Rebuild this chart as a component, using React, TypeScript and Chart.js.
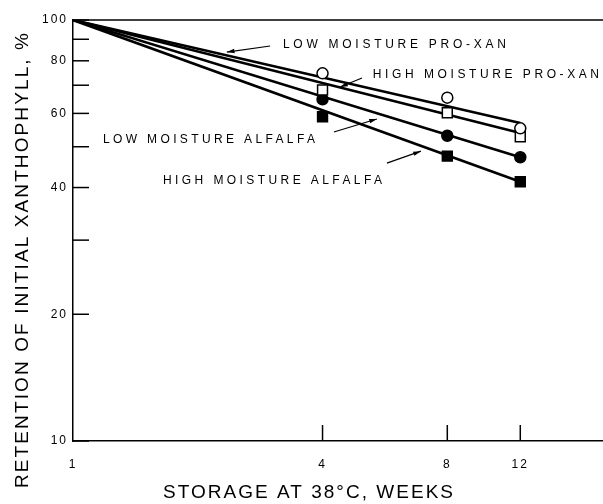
import React, { useEffect, useRef } from 'react';
import { Chart, registerables } from 'chart.js';

Chart.register(...registerables);

// ---- data ----
const weeks = [4, 8, 12];
const lowMoistureProXan = [74.7, 65.4, 55.3];
const highMoistureProXan = [68.2, 60.2, 52.8];
const lowMoistureAlfalfa = [64.8, 53.1, 47.2];
const highMoistureAlfalfa = [58.9, 47.5, 41.3];

const fitWeeks = [1, 12];
const lowMoistureProXanFit = [100, 56.9];
const highMoistureProXanFit = [100, 53.9];
const lowMoistureAlfalfaFit = [100, 47.2];
const highMoistureAlfalfaFit = [100, 41.3];

const xTickValues = [1, 4, 8, 12];
const xTickLabels = ['1', '4', '8', '12'];
const yTickValues = [10, 20, 30, 40, 50, 60, 70, 80, 90, 100];
const yTickLabels = ['10', '20', '', '40', '', '60', '', '80', '', '100'];

const xTitle = 'STORAGE AT 38\u00B0C, WEEKS';
const yTitle = 'RETENTION OF INITIAL XANTHOPHYLL, %';

// annotation labels (data coordinates)
const annotations = [
  { text: 'LOW MOISTURE PRO-XAN', x0: 3.21, x1: 11.08, y: 87.2, tail: [2.99, 86.75], head: [2.35, 83.9] },
  { text: 'HIGH MOISTURE PRO-XAN', x0: 5.29, x1: 18.58, y: 74.0, tail: [4.98, 72.8], head: [4.41, 69.3] },
  { text: 'LOW MOISTURE ALFALFA', x0: 1.181, x1: 3.835, y: 51.9, tail: [4.26, 54.2], head: [5.41, 58.2] },
  { text: 'HIGH MOISTURE ALFALFA', x0: 1.649, x1: 5.567, y: 41.5, tail: [5.72, 45.7], head: [6.91, 48.8] },
];

const FONT = '"Liberation Sans", Arial, sans-serif';
const W = 603;
const H = 504;

function pts(xs: number[], ys: number[]) {
  return xs.map((x, i) => ({ x, y: ys[i] }));
}

function drawSpaced(ctx: CanvasRenderingContext2D, text: string, x: number, y: number, width: number) {
  ctx.letterSpacing = '0px';
  const w = ctx.measureText(text).width;
  const sp = (width - w) / (text.length - 1);
  ctx.letterSpacing = sp + 'px';
  ctx.textAlign = 'left';
  ctx.textBaseline = 'middle';
  ctx.fillText(text, x, y);
  ctx.letterSpacing = '0px';
}

const decorPlugin = {
  id: 'decor',
  beforeDraw(chart: any) {
    chart.ctx.letterSpacing = '2px';
  },
  beforeDatasetsDraw(chart: any) {
    const ctx = chart.ctx as CanvasRenderingContext2D;
    ctx.letterSpacing = '0px';
    const { left, right, top, bottom } = chart.chartArea;
    const xs = chart.scales.x;
    const ys = chart.scales.y;
    ctx.save();
    ctx.strokeStyle = '#000';
    ctx.lineWidth = 1.5;
    // top frame line
    ctx.beginPath();
    ctx.moveTo(left, top);
    ctx.lineTo(right, top);
    ctx.stroke();
    // inward y tick marks
    yTickValues.forEach((v) => {
      const y = ys.getPixelForValue(v);
      ctx.beginPath();
      ctx.moveTo(left, y);
      ctx.lineTo(left + 16, y);
      ctx.stroke();
    });
    // inward x tick marks
    xTickValues.forEach((v) => {
      if (v === xTickValues[0]) return;
      const x = xs.getPixelForValue(v);
      ctx.beginPath();
      ctx.moveTo(x, bottom);
      ctx.lineTo(x, bottom - 16);
      ctx.stroke();
    });
    ctx.restore();
  },
  afterDatasetsDraw(chart: any) {
    const ctx = chart.ctx as CanvasRenderingContext2D;
    const xs = chart.scales.x;
    const ys = chart.scales.y;
    ctx.save();
    ctx.fillStyle = '#000';
    ctx.strokeStyle = '#000';
    // annotations
    ctx.font = `12px ${FONT}`;
    annotations.forEach((a) => {
      const px0 = xs.getPixelForValue(a.x0);
      const px1 = xs.getPixelForValue(a.x1);
      const py = ys.getPixelForValue(a.y);
      drawSpaced(ctx, a.text, px0, py, px1 - px0);
      const tx = xs.getPixelForValue(a.tail[0]);
      const ty = ys.getPixelForValue(a.tail[1]);
      const hx = xs.getPixelForValue(a.head[0]);
      const hy = ys.getPixelForValue(a.head[1]);
      ctx.lineWidth = 1.2;
      ctx.beginPath();
      ctx.moveTo(tx, ty);
      ctx.lineTo(hx, hy);
      ctx.stroke();
      const ang = Math.atan2(hy - ty, hx - tx);
      const L = 8;
      ctx.beginPath();
      ctx.moveTo(hx, hy);
      ctx.lineTo(hx - L * Math.cos(ang - 0.28), hy - L * Math.sin(ang - 0.28));
      ctx.lineTo(hx - L * Math.cos(ang + 0.28), hy - L * Math.sin(ang + 0.28));
      ctx.closePath();
      ctx.fill();
    });
    // axis titles
    ctx.font = `19px ${FONT}`;
    drawSpaced(ctx, xTitle, 163, 493, 290);
    ctx.save();
    ctx.translate(23, 488);
    ctx.rotate(-Math.PI / 2);
    drawSpaced(ctx, yTitle, 0, 0, 455);
    ctx.restore();
    ctx.restore();
  },
};

export default function App() {
  const ref = useRef<HTMLCanvasElement>(null);

  useEffect(() => {
    const canvas = ref.current;
    if (!canvas) return;

    const marker = (style: string, r: number, filled: boolean) => ({
      showLine: false,
      pointStyle: style,
      pointRadius: r,
      pointBackgroundColor: filled ? '#000' : '#fff',
      pointBorderColor: '#000',
      pointBorderWidth: 1.5,
      order: 0,
    });
    const fitLine = {
      showLine: true,
      pointRadius: 0,
      borderColor: '#000',
      borderWidth: 2.6,
      order: 1,
    };

    const chart = new Chart(canvas, {
      type: 'scatter',
      data: {
        datasets: [
          { label: 'Low moisture Pro-Xan', data: pts(weeks, lowMoistureProXan), ...marker('circle', 5.5, false) },
          { label: 'High moisture Pro-Xan', data: pts(weeks, highMoistureProXan), ...marker('rect', 7, false) },
          { label: 'Low moisture alfalfa', data: pts(weeks, lowMoistureAlfalfa), ...marker('circle', 5.5, true) },
          { label: 'High moisture alfalfa', data: pts(weeks, highMoistureAlfalfa), ...marker('rect', 7, true) },
          { label: 'Low moisture Pro-Xan fit', data: pts(fitWeeks, lowMoistureProXanFit), ...fitLine },
          { label: 'High moisture Pro-Xan fit', data: pts(fitWeeks, highMoistureProXanFit), ...fitLine },
          { label: 'Low moisture alfalfa fit', data: pts(fitWeeks, lowMoistureAlfalfaFit), ...fitLine },
          { label: 'High moisture alfalfa fit', data: pts(fitWeeks, highMoistureAlfalfaFit), ...fitLine },
        ] as any,
      },
      options: {
        animation: false,
        responsive: false,
        devicePixelRatio: 1,
        events: [],
        layout: { autoPadding: false, padding: { top: 20, right: 0, left: 0, bottom: 0 } },
        plugins: {
          legend: { display: false },
          tooltip: { enabled: false },
          title: { display: false },
        },
        scales: {
          x: {
            type: 'logarithmic',
            bounds: 'data',
            min: 1,
            max: 19,
            grid: { display: false, drawTicks: false },
            border: { display: true, color: '#000', width: 1.5 },
            ticks: {
              color: '#000',
              font: { family: FONT, size: 12 },
              padding: 16,
              autoSkip: false,
              maxRotation: 0,
              callback: (v: any) => {
                const i = xTickValues.indexOf(Number(v));
                return i >= 0 ? xTickLabels[i] : '';
              },
            },
            afterBuildTicks: (s: any) => {
              s.ticks = xTickValues.map((v) => ({ value: v }));
            },
            afterFit: (s: any) => {
              s.height = 63;
            },
          },
          y: {
            type: 'logarithmic',
            bounds: 'data',
            min: 10,
            max: 100,
            grid: { display: false, drawTicks: false },
            border: { display: true, color: '#000', width: 1.5 },
            ticks: {
              color: '#000',
              font: { family: FONT, size: 12 },
              padding: 5,
              autoSkip: false,
              callback: (v: any) => {
                const i = yTickValues.indexOf(Number(v));
                return i >= 0 ? yTickLabels[i] : '';
              },
            },
            afterBuildTicks: (s: any) => {
              s.ticks = yTickValues.map((v) => ({ value: v }));
            },
            afterFit: (s: any) => {
              s.width = 73;
            },
          },
        },
      } as any,
      plugins: [decorPlugin as any],
    });

    return () => chart.destroy();
  }, []);

  return (
    <div style={{ position: 'absolute', left: 0, top: 0, width: W, height: H, background: '#fff' }}>
      <canvas ref={ref} width={W} height={H} style={{ display: 'block', width: W, height: H }} />
    </div>
  );
}
